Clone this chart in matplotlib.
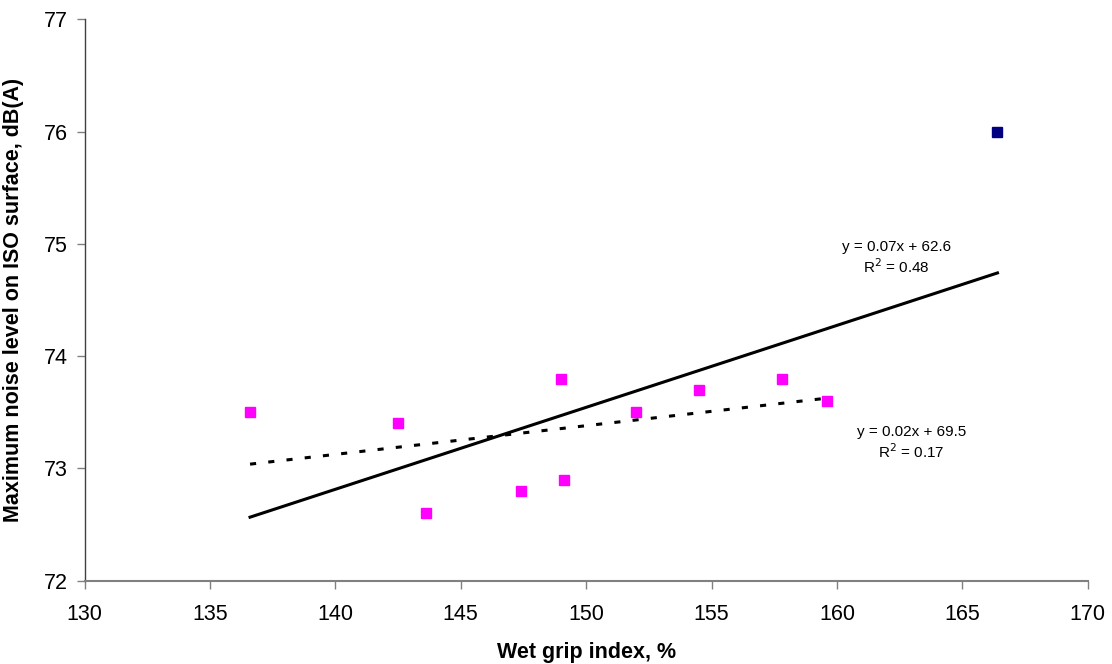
import numpy as np
import matplotlib.pyplot as plt

plt.rcParams['font.family'] = ['Liberation Sans', 'DejaVu Sans']

# Wet grip index vs maximum noise level (ISO surface)
grip = [136.6, 142.5, 143.6, 147.4, 149.0, 149.1, 152.0, 154.5, 157.8, 159.6]
noise = [73.5, 73.4, 72.6, 72.8, 73.8, 72.9, 73.5, 73.7, 73.8, 73.6]
grip_outlier = [166.4]
noise_outlier = [76.0]

# trendline labels as printed on the chart
eq_all = "y = 0.07x + 62.6\nR$^2$ = 0.48"
eq_sub = "y = 0.02x + 69.5\nR$^2$ = 0.17"

fig = plt.figure(figsize=(11.12, 6.64), dpi=100)
ax = fig.add_axes([0.076, 0.1255, 0.9022, 0.8455])

ax.plot(grip, noise, "s", color="#ff00ff", markersize=7.6, zorder=3)
ax.plot(grip_outlier, noise_outlier, "s", color="#000080", markersize=7.6, zorder=3)

# trendline over all points
gx_all = np.array(grip + grip_outlier)
ny_all = np.array(noise + noise_outlier)
k1, b1 = np.polyfit(gx_all, ny_all, 1)
xs = np.array([gx_all.min(), gx_all.max()])
ax.plot(xs, k1 * xs + b1, color="black", lw=2.2)

# trendline without the outlier
k2, b2 = np.polyfit(grip, noise, 1)
xs2 = np.array([min(grip), max(grip)])
ax.plot(xs2, k2 * xs2 + b2, color="black", lw=2.2, ls=(0, (2, 4)))

ax.text(162.38, 74.874, eq_all, ha="center", va="center", fontsize=11, linespacing=1.25)
ax.text(162.98, 73.227, eq_sub, ha="center", va="center", fontsize=11, linespacing=1.25)

ax.set_xlim(130, 170)
ax.set_ylim(72, 77)
ax.set_xticks(range(130, 171, 5))
ax.set_yticks(range(72, 78))
ax.tick_params(labelsize=15.5, length=6, color="#808080", width=1)
ax.tick_params(axis="x", pad=11)
ax.tick_params(axis="y", pad=6)
for s in ["top", "right"]:
    ax.spines[s].set_visible(False)
ax.spines["left"].set_color("#404040")
ax.spines["left"].set_linewidth(1)
ax.spines["bottom"].set_color("#808080")
ax.spines["bottom"].set_linewidth(1.5)

ax.set_xlabel("Wet grip index, %", fontsize=15.5, fontweight="bold", labelpad=12)
ax.set_ylabel("Maximum noise level on ISO surface, dB(A)", fontsize=15.5,
              fontweight="bold", labelpad=14)

fig.savefig("out.png", dpi=100)
